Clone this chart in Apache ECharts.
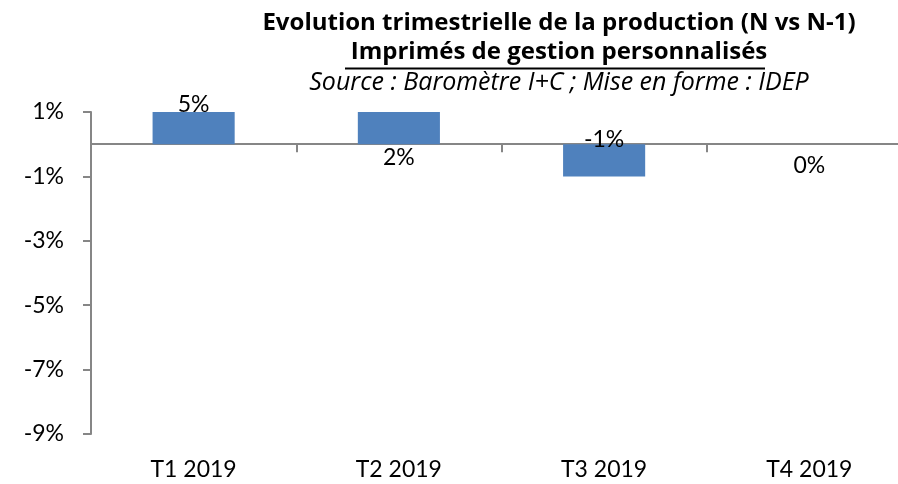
<!DOCTYPE html>
<html><head><meta charset="utf-8">
<script src="https://cdn.jsdelivr.net/npm/echarts@6/dist/echarts.min.js"></script>
<style>html,body{margin:0;padding:0;background:#fff;overflow:hidden;width:898px;height:484px}#c{width:916px;height:484px}</style>
</head><body><div id="c"></div>
<script>
const categories = ['T1 2019', 'T2 2019', 'T3 2019', 'T4 2019'];
const values = [5, 2, -1, 0];
const yTicks = [-9, -7, -5, -3, -1, 1];
const labelPlacement = ['top', 'bottom', 'top', 'bottom'];
const titleLines = ['Evolution trimestrielle de la production (N vs N-1)', 'Imprimés de gestion personnalisés', 'Source : Baromètre I+C ; Mise en forme : IDEP'];

const FONT = 'Lato';
const TFONT = 'Open Sans';
const chart = echarts.init(document.getElementById('c'), null, {renderer: 'canvas'});
chart.setOption({
  animation: false,
  backgroundColor: '#ffffff',
  title: [
    {text: titleLines[0], left: 554, top: 6, textAlign: 'center', textStyle: {fontFamily: TFONT, fontSize: 24, fontWeight: 'bold', color: '#000'}},
    {text: titleLines[1], left: 554, top: 35, textAlign: 'center', textStyle: {fontFamily: TFONT, fontSize: 24, fontWeight: 'bold', color: '#000'}},
    {text: titleLines[2], left: 554, top: 65, textAlign: 'center', textStyle: {fontFamily: TFONT, fontSize: 25, fontStyle: 'italic', fontWeight: 'normal', color: '#000'}}
  ],
  graphic: [
    {type: 'line', shape: {x1: 345, y1: 68.5, x2: 765, y2: 68.5}, style: {stroke: '#000', lineWidth: 2}}
  ],
  grid: {left: 91, top: 112, width: 821, height: 322, containLabel: false},
  xAxis: [
    {type: 'category', data: categories, position: 'bottom',
     axisLine: {onZero: true, lineStyle: {color: '#868686', width: 2}},
     axisTick: {show: true, length: 8, lineStyle: {color: '#868686', width: 2}},
     axisLabel: {show: false}},
    {type: 'category', data: categories, position: 'bottom',
     axisLine: {show: false, onZero: false}, axisTick: {show: false},
     axisLabel: {show: true, margin: 24, fontFamily: FONT, fontSize: 23, color: '#000'}}
  ],
  yAxis: {
    type: 'value', min: -9, max: 1,
    axisLine: {show: true, lineStyle: {color: '#868686', width: 2}},
    axisTick: {show: true, length: 8, customValues: yTicks, lineStyle: {color: '#868686', width: 2}},
    axisLabel: {customValues: yTicks, margin: 27, fontFamily: FONT, fontSize: 23, color: '#000', formatter: v => v + '%'},
    splitLine: {show: false}
  },
  series: [{
    type: 'bar', xAxisIndex: 0, barWidth: '40%', clip: true,
    itemStyle: {color: '#4F81BD'},
    data: values.map((v, i) => ({value: v, label: {show: true, position: labelPlacement[i], distance: [-4, 1.5, -7, 10][i]}})),
    label: {fontFamily: FONT, fontSize: 23, color: '#000', formatter: p => p.value + '%'}
  }]
});
</script></body></html>
